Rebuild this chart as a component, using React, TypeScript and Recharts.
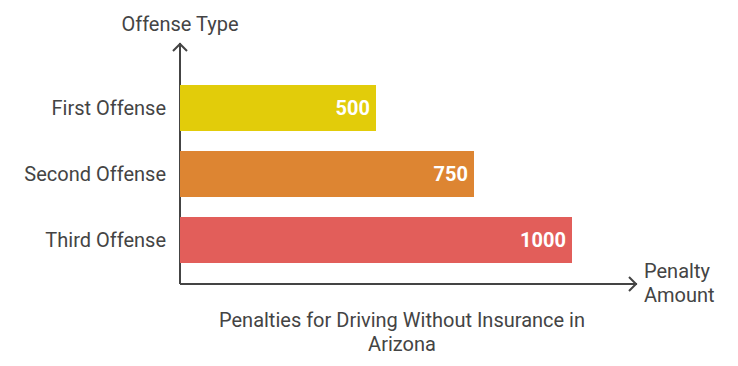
import React from 'react'
import { BarChart, Bar, XAxis, YAxis, Cell, LabelList, usePlotArea } from 'recharts'

const OFFENSES = ['First Offense', 'Second Offense', 'Third Offense']
const PENALTIES = [500, 750, 1000]
const COLORS = ['#E2CC0A', '#DD8532', '#E25E5A']

const data = OFFENSES.map((name, i) => ({ name, value: PENALTIES[i] }))

const AXIS = '#444444'
const FONT = 'Roboto, "Noto Sans", sans-serif'

function Axes() {
  const area = usePlotArea()
  if (!area) return null
  const x0 = area.x
  const yBottom = area.y + area.height + 11
  const yTop = area.y - 32
  const xRight = area.x + area.width + 65
  return (
    <g>
      <line x1={x0} y1={yBottom} x2={x0} y2={yTop} stroke={AXIS} strokeWidth={2} />
      <polyline points={`${x0 - 7},${yTop + 8} ${x0},${yTop + 1} ${x0 + 7},${yTop + 8}`} fill="none" stroke={AXIS} strokeWidth={2} />
      <line x1={x0} y1={yBottom} x2={xRight} y2={yBottom} stroke={AXIS} strokeWidth={2} />
      <polyline points={`${xRight - 8},${yBottom - 7} ${xRight - 1},${yBottom} ${xRight - 8},${yBottom + 7}`} fill="none" stroke={AXIS} strokeWidth={2} />
      <text x={x0} y={yTop - 12} textAnchor="middle" fontSize={20} fill={AXIS} fontFamily={FONT}>Offense Type</text>
      <text x={xRight + 7} y={yBottom - 6} fontSize={20} fill={AXIS} fontFamily={FONT}>Penalty</text>
      <text x={xRight + 7} y={yBottom + 18} fontSize={20} fill={AXIS} fontFamily={FONT}>Amount</text>
      <text x={402} y={yBottom + 43} textAnchor="middle" fontSize={20} fill={AXIS} fontFamily={FONT}>Penalties for Driving Without Insurance in</text>
      <text x={402} y={yBottom + 67} textAnchor="middle" fontSize={20} fill={AXIS} fontFamily={FONT}>Arizona</text>
    </g>
  )
}

export default function App() {
  return (
    <div style={{ position: 'absolute', left: 0, top: 0, width: 738, height: 366, background: '#fff' }}>
      <BarChart
        width={738}
        height={366}
        data={data}
        layout="vertical"
        margin={{ top: 75, right: 166, bottom: 93, left: 0 }}
        barCategoryGap={10}
      >
        <XAxis type="number" domain={[0, 1000]} hide />
        <YAxis
          type="category"
          dataKey="name"
          width={180}
          axisLine={false}
          tickLine={false}
          tickMargin={8}
          tick={{ fill: AXIS, fontSize: 20, fontFamily: FONT }}
        />
        <Bar dataKey="value" barSize={46} isAnimationActive={false}>
          {data.map((d, i) => (
            <Cell key={d.name} fill={COLORS[i]} />
          ))}
          <LabelList
            dataKey="value"
            position="insideRight"
            offset={6}
            fill="#ffffff"
            style={{ fontSize: 20, fontWeight: 'bold', fontFamily: FONT }}
          />
        </Bar>
        <Axes />
      </BarChart>
    </div>
  )
}
